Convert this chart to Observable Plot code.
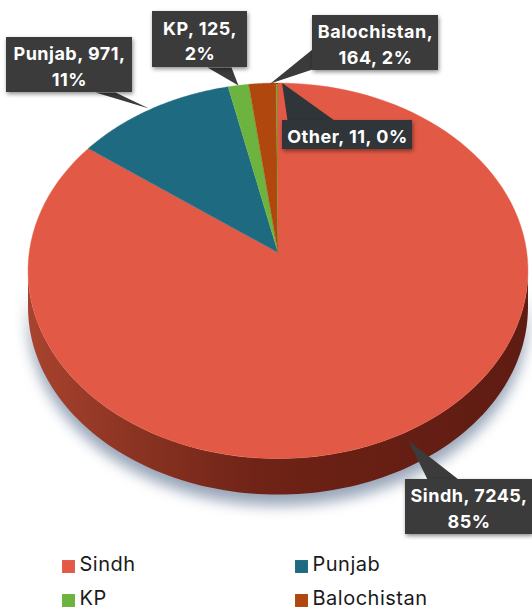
<!DOCTYPE html>
<html>
<head>
<meta charset="utf-8">
<script src="https://cdn.jsdelivr.net/npm/d3@7"></script>
<script src="https://cdn.jsdelivr.net/npm/@observablehq/plot@0.6"></script>
<style>
  html, body { margin: 0; padding: 0; background: #fff; overflow: hidden; }
  svg { display: block; }
</style>
</head>
<body>
<div id="chart"></div>
<script>
// Cases by province
const provinces = ["Sindh", "Punjab", "KP", "Balochistan", "Other"];
const cases = [7245, 971, 125, 164, 11];
const shares = [85, 11, 2, 2, 0];
const sliceColors = ["#e25a46", "#1e6a80", "#6db33f", "#b0470f", "#8a8a2a"];

// How many comma-separated parts of a callout go on its first line
const firstLineParts = [2, 2, 2, 1, 3];

// Callout boxes, in chart pixels: left, top, right, bottom
const boxLeft = [405, 6, 152, 312, 282];
const boxTop = [479, 37, 11, 15, 120];
const boxRight = [532, 132, 247, 438, 412];
const boxBottom = [534, 92, 67, 70, 149];
// Where each pointer leaves its box: two points on the box edge
const stemA = [[427, 479], [95, 92], [207, 67], [312, 49], [287, 120]];
const stemB = [[458, 479], [115, 92], [231, 67], [312, 69], [334, 120]];
// Pointer tips: reach along the slice's mid-angle, plus a sideways nudge
const tipReach = [1.03, 1, 1, 1, 1];
const tipNudge = [3, -3, 0, 8, 5];
const boxColors = ["#3b3b3b", "#3b3b3b", "#3b3b3b", "#3b3b3b", "#2f3539"];

// Legend entries (Other is not listed)
const legendNames = ["Sindh", "Punjab", "KP", "Balochistan"];
const legendX = [68, 301, 68, 301];
const legendY = [566, 566, 600, 600];
const legendTextY = [564, 564, 598, 598];

// Perspective view of the disc
const cx = 277.5, cy = 252, ax = 248.8, ay = 186, tilt = 0.0975, wallDepth = 36;
const project = (angle, r = 1, dy = 0) => {
  const u = r * Math.sin(angle), v = r * Math.cos(angle), d = 1 + tilt * v;
  return {x: cx + ax * u / d, y: cy - ay * v / d + dy};
};
const sweep = (a0, a1) => d3.range(0, 121).map((i) => a0 + (a1 - a0) * i / 120);

const arcs = d3.pie().sort(null).value((d) => d)(cases);

// Top face: one closed polygon per province
const facePoints = arcs.flatMap((arc, i) => [
  {name: provinces[i], x: cx, y: cy},
  ...sweep(arc.startAngle, arc.endAngle).map((a) => ({name: provinces[i], ...project(a)}))
]);

// Near wall of the disc
const nearEdge = sweep(96 * Math.PI / 180, 264 * Math.PI / 180);
const wallPoints = [
  ...nearEdge.map((a) => project(a)),
  ...nearEdge.slice().reverse().map((a) => project(a, 1, wallDepth))
];

// Callout records: text built from the values, pointer tip from the slice's mid-angle
const callouts = provinces.map((name, i) => {
  const parts = [name, String(cases[i]), shares[i] + "%"];
  const n = firstLineParts[i];
  const first = parts.slice(0, n).join(", ") + (n < 3 ? "," : "");
  const second = parts.slice(n).join(", ");
  const mid = (arcs[i].startAngle + arcs[i].endAngle) / 2;
  const tip = project(mid, tipReach[i]);
  return {
    name,
    text: second ? first + "\n" + second : first,
    left: boxLeft[i], top: boxTop[i], right: boxRight[i], bottom: boxBottom[i],
    tip: {x: tip.x + tipNudge[i], y: tip.y},
    a: stemA[i], b: stemB[i], color: boxColors[i]
  };
});
const stemPoints = callouts.flatMap((c) => [
  {name: c.name, color: c.color, x: c.a[0], y: c.a[1]},
  {name: c.name, color: c.color, x: c.tip.x, y: c.tip.y},
  {name: c.name, color: c.color, x: c.b[0], y: c.b[1]}
]);

const legendRows = legendNames.map((name, i) => ({name, x: legendX[i], y: legendY[i], ty: legendTextY[i]}));

const wallGradient = () => {
  const defs = d3.create("svg:defs");
  const g = defs.append("linearGradient")
    .attr("id", "wall").attr("gradientUnits", "userSpaceOnUse")
    .attr("x1", cx - 250).attr("x2", cx + 250).attr("y1", 0).attr("y2", 0);
  [[0, "#a8432f"], [0.22, "#8a3322"], [0.45, "#702417"], [0.6, "#6a2014"], [1, "#5f1c13"]]
    .forEach(([o, c]) => g.append("stop").attr("offset", o).attr("stop-color", c));
  return defs.node();
};

// Box and pointer marks, one pair per box colour
const calloutMarks = d3.groups(callouts, (d) => d.color).flatMap(([color, rows]) => {
  const names = new Set(rows.map((d) => d.name));
  return [
    Plot.line(stemPoints.filter((d) => names.has(d.name)), {x: "x", y: "y", z: "name", fill: color, stroke: "none"}),
    Plot.rect(rows, {
      x1: "left", x2: "right", y1: "top", y2: "bottom",
      fill: color,
      imageFilter: "drop-shadow(1px 2px 2px rgba(0,0,0,0.45))"
    })
  ];
});

const chart = Plot.plot({
  width: 532,
  height: 610,
  margin: 0,
  x: {domain: [0, 532], range: [0, 532], axis: null},
  y: {domain: [0, 610], range: [0, 610], axis: null},
  color: {domain: provinces, range: sliceColors},
  style: {background: "#fff", fontFamily: "Inter, sans-serif", letterSpacing: "0.5px"},
  marks: [
    wallGradient,
    Plot.line(wallPoints, {
      x: "x", y: "y", fill: "url(#wall)", stroke: "none",
      imageFilter: "drop-shadow(0 11px 7px #98a5b8)"
    }),
    Plot.line(facePoints, {x: "x", y: "y", z: "name", fill: "name", stroke: "name", strokeWidth: 0.4}),
    ...calloutMarks,
    Plot.text(callouts, {
      x: (d) => (d.left + d.right) / 2,
      y: (d) => (d.top + d.bottom) / 2,
      text: "text",
      fill: "#fff",
      fontSize: 18,
      fontWeight: 700,
      lineHeight: 1.42
    }),
    Plot.dot(legendRows, {x: "x", y: "y", symbol: "square", r: 7.3, fill: "name", stroke: "none"}),
    Plot.text(legendRows, {
      x: (d) => d.x + 11,
      y: "ty",
      text: "name",
      textAnchor: "start",
      fill: "#1a1a1a",
      fontSize: 20
    })
  ]
});
document.getElementById("chart").append(chart);
</script>
</body>
</html>
